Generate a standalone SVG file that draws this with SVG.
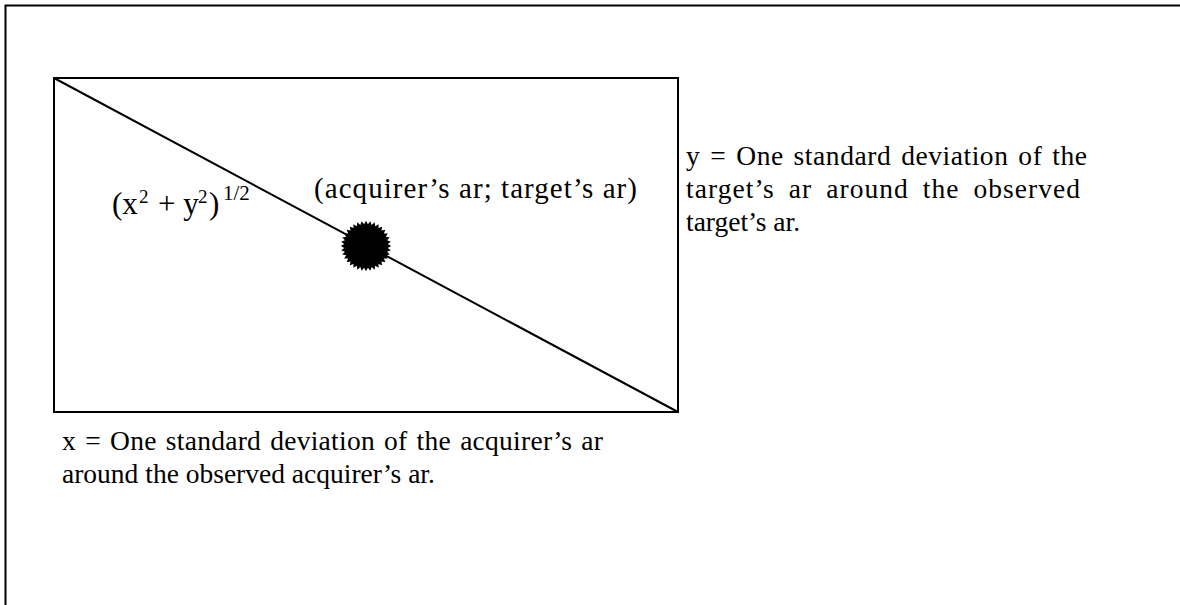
<svg xmlns="http://www.w3.org/2000/svg" width="1180" height="605" viewBox="0 0 1180 605">
<style>
.t{font-family:"Liberation Serif","Times New Roman",serif;font-size:27.5px;fill:#000}
.l{font-size:29px}
.f{font-size:31px}
.s{font-size:19px}
.s2{font-size:21px}
.ln{stroke:#000;stroke-width:2;fill:none}
</style>
<rect x="0" y="0" width="1180" height="605" fill="#fff"/>
<g id="frame"><path class="ln" d="M5.5 605 V5.5 H1180"/></g>
<g id="box"><rect class="ln" x="54" y="78" width="624" height="334"/></g>
<g id="connectors"><line class="ln" x1="54" y1="78" x2="678" y2="412"/></g>
<g id="point">
<polygon transform="translate(366,246) scale(0.97)" fill="#000" points="26,0 22.41,1.96 25.60,4.51 21.73,5.82 24.43,8.89 20.39,9.51 22.52,13 18.43,12.91 19.92,16.71 15.91,15.91 16.71,19.92 12.91,18.43 13,22.52 9.51,20.39 8.89,24.43 5.82,21.73 4.51,25.60 1.96,22.41 0,26 -1.96,22.41 -4.51,25.60 -5.82,21.73 -8.89,24.43 -9.51,20.39 -13,22.52 -12.91,18.43 -16.71,19.92 -15.91,15.91 -19.92,16.71 -18.43,12.91 -22.52,13 -20.39,9.51 -24.43,8.89 -21.73,5.82 -25.60,4.51 -22.41,1.96 -26,0 -22.41,-1.96 -25.60,-4.51 -21.73,-5.82 -24.43,-8.89 -20.39,-9.51 -22.52,-13 -18.43,-12.91 -19.92,-16.71 -15.91,-15.91 -16.71,-19.92 -12.91,-18.43 -13,-22.52 -9.51,-20.39 -8.89,-24.43 -5.82,-21.73 -4.51,-25.60 -1.96,-22.41 0,-26 1.96,-22.41 4.51,-25.60 5.82,-21.73 8.89,-24.43 9.51,-20.39 13,-22.52 12.91,-18.43 16.71,-19.92 15.91,-15.91 19.92,-16.71 18.43,-12.91 22.52,-13 20.39,-9.51 24.43,-8.89 21.73,-5.82 25.60,-4.51 22.41,-1.96"/>
</g>
<g id="labels">
<text class="t l" x="314" y="198" textLength="323" lengthAdjust="spacing">(acquirer’s ar; target’s ar)</text>
<text class="t f" y="214"><tspan x="112">(x</tspan><tspan class="s" x="139" dy="-11">2</tspan><tspan x="158" dy="11">+ y</tspan><tspan class="s" x="198" dy="-11">2</tspan><tspan x="209" dy="11">)</tspan><tspan class="s2" x="223" dy="-14">1/2</tspan></text>
<text class="t" x="686" y="165" word-spacing="2.5" textLength="401" lengthAdjust="spacing">y = One standard deviation of the</text>
<text class="t" x="686" y="198" word-spacing="6" textLength="394" lengthAdjust="spacing">target’s ar around the observed</text>
<text class="t" x="686" y="231">target’s ar.</text>
<text class="t" x="62" y="450" word-spacing="2" textLength="541" lengthAdjust="spacing">x = One standard deviation of the acquirer’s ar</text>
<text class="t" x="62" y="483">around the observed acquirer’s ar.</text>
</g>
</svg>
